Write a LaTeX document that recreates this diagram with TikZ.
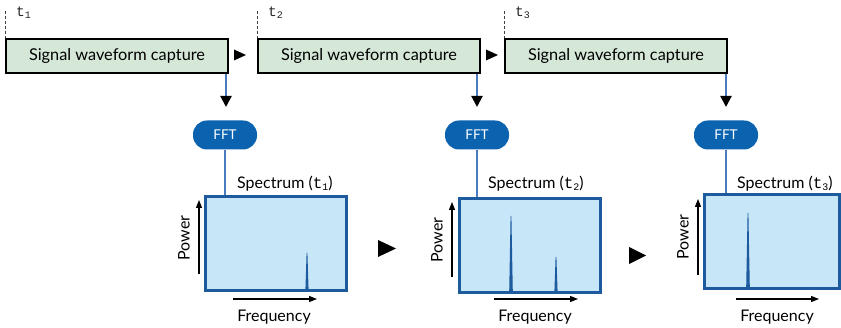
\documentclass[tikz,border=0pt]{standalone}
\usepackage{fontspec}
\setmainfont{Lato}
\newfontfamily\monof{Liberation Mono}
\usetikzlibrary{arrows.meta}
\definecolor{capfill}{HTML}{D5E8D8}
\definecolor{specfill}{HTML}{C7E6F8}
\definecolor{specdraw}{HTML}{1E5B9E}
\definecolor{fftfill}{HTML}{0B63B0}
\definecolor{linkc}{HTML}{4A7BBE}
\newcommand{\tsub}[1]{{\monof t\raisebox{-0.2ex}{\fontsize{10}{11}\selectfont #1}}}
\tikzset{
  capbox/.style={draw=black, line width=2pt, fill=capfill, minimum width=222pt, minimum height=34pt, inner sep=0pt, font=\fontsize{16.3}{19}\selectfont},
  fftbox/.style={fill=fftfill, rounded corners=14pt, minimum width=64pt, minimum height=29pt, inner sep=0pt, text=white, font=\fontsize{13.5}{16}\selectfont},
  specbox/.style={draw=specdraw, line width=3pt, fill=specfill, inner sep=0pt, minimum height=94pt},
  lbl/.style={font=\fontsize{16}{19}\selectfont, inner sep=0pt},
  tlbl/.style={font=\fontsize{14.5}{16}\selectfont, inner sep=0pt, text=black!85},
  tick/.style={draw=black!75, line width=1pt, dash pattern=on 3pt off 2pt},
  link/.style={draw=linkc, line width=2pt},
  downarr/.style={link, -{Triangle[length=11pt, width=11pt, color=black]}},
  axis/.style={draw=black, line width=1.2pt, -{Triangle[length=8pt, width=6pt]}},
  peak/.style={fill=specdraw},
  tri/.style={fill=black}
}
\begin{document}
\begin{tikzpicture}[x=1pt,y=-1pt]
\clip (0,0) rectangle (841,328);
\fill[white] (0,0) rectangle (841,328);
% capture boxes
\node[capbox, anchor=north west] (c1) at (5,38) {Signal waveform capture};
\node[capbox, anchor=north west] (c2) at (257,38) {Signal waveform capture};
\node[capbox, anchor=north west] (c3) at (504,38) {Signal waveform capture};
% time ticks
\coordinate (k1) at (5,11); \coordinate (k2) at (257,11); \coordinate (k3) at (504,11);
\draw[tick] (k1) -- (c1.north west);
\draw[tick] (k2) -- (c2.north west);
\draw[tick] (k3) -- (c3.north west);
\node[tlbl, anchor=base west] (tl1) at (16,17) {\tsub{1}};
\node[tlbl, anchor=base west] (tl2) at (268,17) {\tsub{2}};
\node[tlbl, anchor=base west] (tl3) at (515,17) {\tsub{3}};
% small triangles between capture boxes
\fill[tri] (234,49.5) -- (246,55) -- (234,60.5) -- cycle;
\fill[tri] (486,49.5) -- (498,55) -- (486,60.5) -- cycle;
% FFT pills
\node[fftbox] (f1) at (225,135) {FFT};
\node[fftbox] (f2) at (477,135) {FFT};
\node[fftbox] (f3) at (726,135) {FFT};
% down arrows
\coordinate (d1) at (226,107); \coordinate (d2) at (477,107); \coordinate (d3) at (726,107);
\draw[downarr] (c1.south east -| d1) -- (d1);
\draw[downarr] (c2.south east -| d2) -- (d2);
\draw[downarr] (c3.south east -| d3) -- (d3);
% spectrum boxes
\node[specbox, minimum width=141pt] (s1) at (275.5,244) {};
\node[specbox, minimum width=141pt] (s2) at (529.5,246) {};
\node[specbox, minimum width=135pt] (s3) at (772,241.5) {};
% pill to spectrum
\draw[link] (f1.south) -- (f1.south |- s1.north);
\draw[link] (f2.south) -- (f2.south |- s2.north);
\draw[link] (f3.south) -- (f3.south |- s3.north);
% spectrum labels
\node[lbl, anchor=base west] (l1) at (237,189) {Spectrum (\tsub{1})};
\node[lbl, anchor=base west] (l2) at (488,189) {Spectrum (\tsub{2})};
\node[lbl, anchor=base west] (l3) at (737,189) {Spectrum (\tsub{3})};
% peaks
\fill[peak] (305.4,290) -- (306.6,253) -- (307.4,253) -- (308.6,290) -- cycle;
\fill[peak] (509.2,292) -- (510.6,216) -- (511.4,216) -- (512.8,292) -- cycle;
\fill[peak] (554.4,292) -- (555.6,257) -- (556.4,257) -- (557.6,292) -- cycle;
\fill[peak] (746.2,287) -- (747.6,213) -- (748.4,213) -- (749.8,287) -- cycle;
% axes
\coordinate (p1a) at (199,274); \coordinate (p1b) at (199,200);
\coordinate (p2a) at (452,277); \coordinate (p2b) at (452,202);
\coordinate (p3a) at (698,275); \coordinate (p3b) at (698,199);
\draw[axis] (p1a) -- (p1b);
\draw[axis] (p2a) -- (p2b);
\draw[axis] (p3a) -- (p3b);
\coordinate (q1a) at (233,299); \coordinate (q1b) at (317,299);
\coordinate (q2a) at (494,299); \coordinate (q2b) at (578,299);
\coordinate (q3a) at (736,299); \coordinate (q3b) at (819,299);
\draw[axis] (q1a) -- (q1b);
\draw[axis] (q2a) -- (q2b);
\draw[axis] (q3a) -- (q3b);
\node[lbl, rotate=90] (pw1) at (184,238) {Power};
\node[lbl, rotate=90] (pw2) at (437,240) {Power};
\node[lbl, rotate=90] (pw3) at (683,237) {Power};
\node[lbl] (fq1) at (274,317) {Frequency};
\node[lbl] (fq2) at (535,317) {Frequency};
\node[lbl] (fq3) at (777,317) {Frequency};
% big triangles between spectra
\fill[tri] (378,240) -- (396,248.5) -- (378,257) -- cycle;
\fill[tri] (629,247) -- (646,255.5) -- (629,264) -- cycle;
\end{tikzpicture}
\end{document}
